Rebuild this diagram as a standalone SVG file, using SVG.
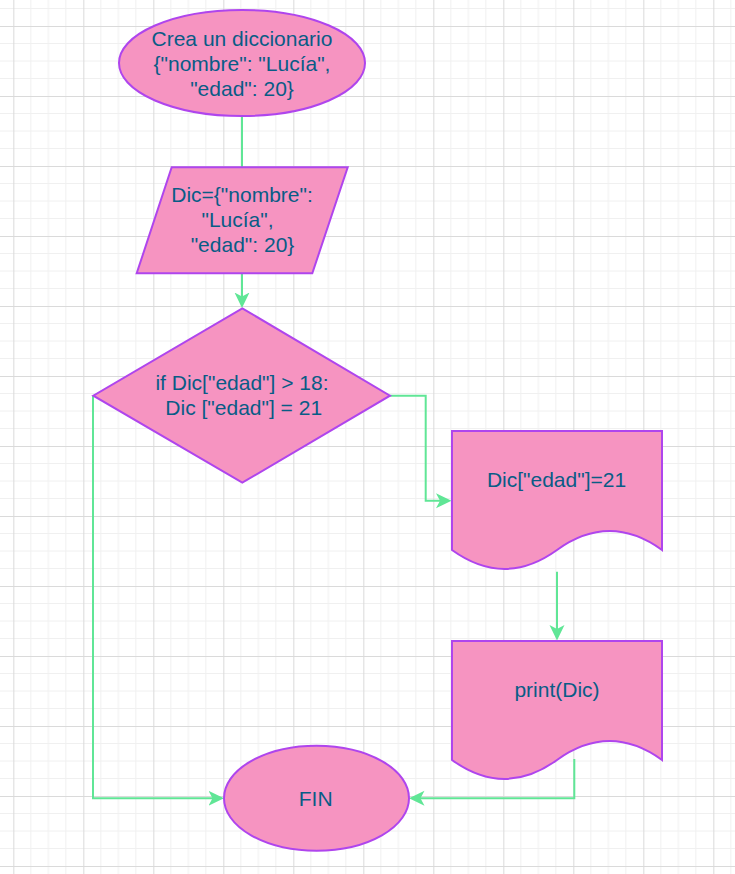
<svg xmlns="http://www.w3.org/2000/svg" width="735" height="874" viewBox="0 0 735 874">
  <defs>
    <pattern id="grid" patternUnits="userSpaceOnUse" x="13.33" y="26" width="70" height="70">
      <path d="M17.5,0 V70 M35,0 V70 M52.5,0 V70 M0,17.5 H70 M0,35 H70 M0,52.5 H70" stroke="#f0f0f0" stroke-width="1" fill="none"/>
      <path d="M0.5,0 V70 M0,0.5 H70" stroke="#dadada" stroke-width="1" fill="none"/>
    </pattern>
    <marker id="arrow" markerUnits="userSpaceOnUse" markerWidth="16" markerHeight="16" viewBox="0 0 16 16" refX="10" refY="7.5" orient="auto">
      <path d="M0,0 L15.5,7.5 L0,15 L4,7.5 Z" fill="#60E696"/>
    </marker>
  </defs>
  <style>
    .shape { fill: #F694C1; stroke: #AF45ED; stroke-width: 2; }
    .label { font-family: "Liberation Sans", Arial, Helvetica, sans-serif; font-size: 21px; fill: #095C86; text-anchor: middle; }
    .edge { fill: none; stroke: #60E696; stroke-width: 2; }
  </style>
  <rect x="0" y="0" width="735" height="874" fill="#ffffff"/>
  <rect x="0" y="0" width="735" height="874" fill="url(#grid)"/>

  <g id="connectors">
    <path class="edge" d="M242,116 V167"/>
    <path class="edge" d="M242,273 V302.5" marker-end="url(#arrow)"/>
    <path class="edge" d="M390,395.7 H425.7 V500.7 H446" marker-end="url(#arrow)"/>
    <path class="edge" d="M557,571.7 V635" marker-end="url(#arrow)"/>
    <path class="edge" d="M574.3,759 V798.3 H414.5" marker-end="url(#arrow)"/>
    <path class="edge" d="M93,395.7 V798.3 H218.5" marker-end="url(#arrow)"/>
  </g>

  <g id="start">
    <ellipse class="shape" cx="242" cy="63" rx="123" ry="53"/>
    <text class="label" x="242" y="45.5">Crea un diccionario</text>
    <text class="label" x="242" y="70.5">{"nombre": "Lucía",</text>
    <text class="label" x="242" y="95.5">"edad": 20}</text>
  </g>

  <g id="input">
    <polygon class="shape" points="171.7,167.3 347.7,167.3 312.3,273.3 136.7,273.3"/>
    <text class="label" x="242" y="201.5">Dic={"nombre":</text>
    <text class="label" x="237.5" y="226.5">"Lucía",</text>
    <text class="label" x="242.5" y="251.5">"edad": 20}</text>
  </g>

  <g id="decision">
    <polygon class="shape" points="242.3,308.3 390,395.7 242.3,482.7 93.3,395.7"/>
    <text class="label" x="242" y="390">if Dic["edad"] &gt; 18:</text>
    <text class="label" x="243.7" y="415">Dic ["edad"] = 21</text>
  </g>

  <g id="assign">
    <path class="shape" d="M452,431 H662 V550 Q609.5,512.2 557,550 Q504.5,587.8 452,550 Z"/>
    <text class="label" x="556.5" y="486.7">Dic["edad"]=21</text>
  </g>

  <g id="print">
    <path class="shape" d="M452,641 H662 V760 Q609.5,722.2 557,760 Q504.5,797.8 452,760 Z"/>
    <text class="label" x="557" y="696.7">print(Dic)</text>
  </g>

  <g id="end">
    <ellipse class="shape" cx="316.5" cy="798.2" rx="92.5" ry="52.5"/>
    <text class="label" x="315.7" y="805.7">FIN</text>
  </g>
</svg>
